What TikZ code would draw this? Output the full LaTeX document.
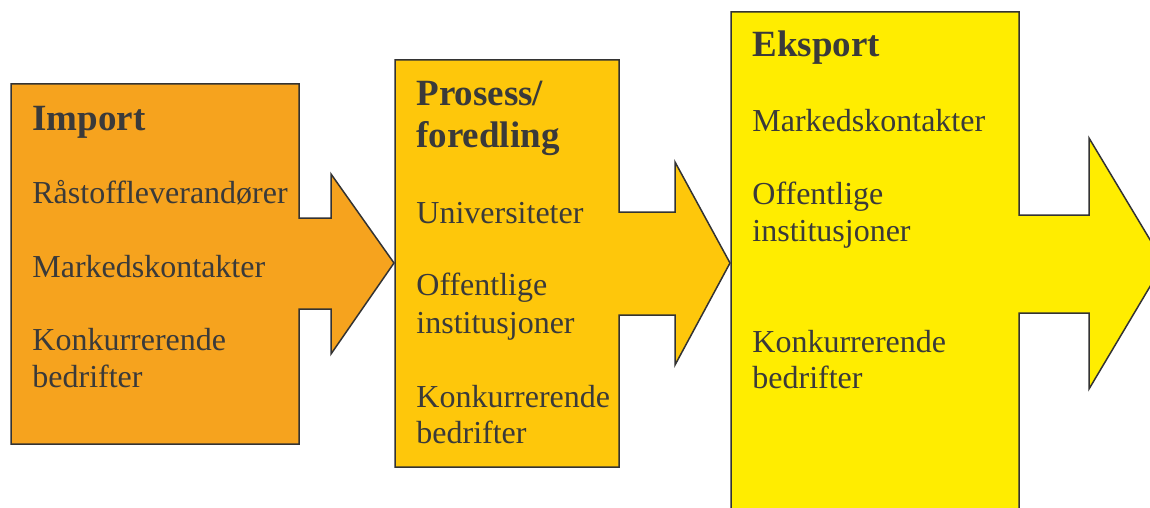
\documentclass[tikz,border=0pt]{standalone}
\usepackage{fontspec}
\setmainfont{Liberation Serif}
\definecolor{cImp}{HTML}{F6A31E}
\definecolor{cPro}{HTML}{FEC70B}
\definecolor{cEks}{HTML}{FFED00}
\definecolor{cLine}{HTML}{333333}
\definecolor{cText}{HTML}{3A3A3A}
\begin{document}
\begin{tikzpicture}[x=0.5pt,y=-0.5pt,
  blockarrow/.style={draw=cLine,line width=0.75pt,line join=miter},
  head/.style={anchor=base west,inner sep=0pt,text=cText,font=\fontsize{18.5}{21}\selectfont\bfseries},
  item/.style={anchor=base west,inner sep=0pt,text=cText,font=\fontsize{16}{19}\selectfont}]
\useasboundingbox (0,0) rectangle (1150,508);
\clip (0,0) rectangle (1150,508);
% shape 1
\draw[blockarrow,fill=cImp] (11,84) -- (299,84) -- (299,218) -- (331,218) -- (331,174) -- (394,263)
  -- (331,354) -- (331,309) -- (299,309) -- (299,444) -- (11,444) -- cycle;
% shape 2
\draw[blockarrow,fill=cPro] (395,60) -- (619,60) -- (619,212) -- (675,212) -- (675,162) -- (730,263)
  -- (675,365) -- (675,315) -- (619,315) -- (619,467) -- (395,467) -- cycle;
% shape 3
\draw[blockarrow,fill=cEks] (731,12) -- (1019,12) -- (1019,215) -- (1089,215) -- (1089,138) -- (1164,263)
  -- (1089,389) -- (1089,313) -- (1019,313) -- (1019,530) -- (731,530) -- cycle;
% texts 1
\node[head] (h1) at (32,130) {Import};
\node[item] (a1) at (32,203) {Råstoffleverandører};
\node[item] (a2) at (32,277) {Markedskontakter};
\node[item] (a3) at (32,350) {Konkurrerende};
\node[item] (a4) at (32,387) {bedrifter};
% texts 2
\node[head] (h2a) at (416,105) {Prosess/};
\node[head] (h2b) at (416,148) {foredling};
\node[item] (b1) at (416,223) {Universiteter};
\node[item] (b2) at (416,295) {Offentlige};
\node[item] (b3) at (416,333) {institusjoner};
\node[item] (b4) at (416,407) {Konkurrerende};
\node[item] (b5) at (416,443) {bedrifter};
% texts 3
\node[head] (h3) at (752,57) {Eksport};
\node[item] (c1) at (752,132) {Markedskontakter};
\node[item] (c2) at (752,204) {Offentlige};
\node[item] (c3) at (752,241) {institusjoner};
\node[item] (c4) at (752,352) {Konkurrerende};
\node[item] (c5) at (752,388) {bedrifter};
\end{tikzpicture}
\end{document}
